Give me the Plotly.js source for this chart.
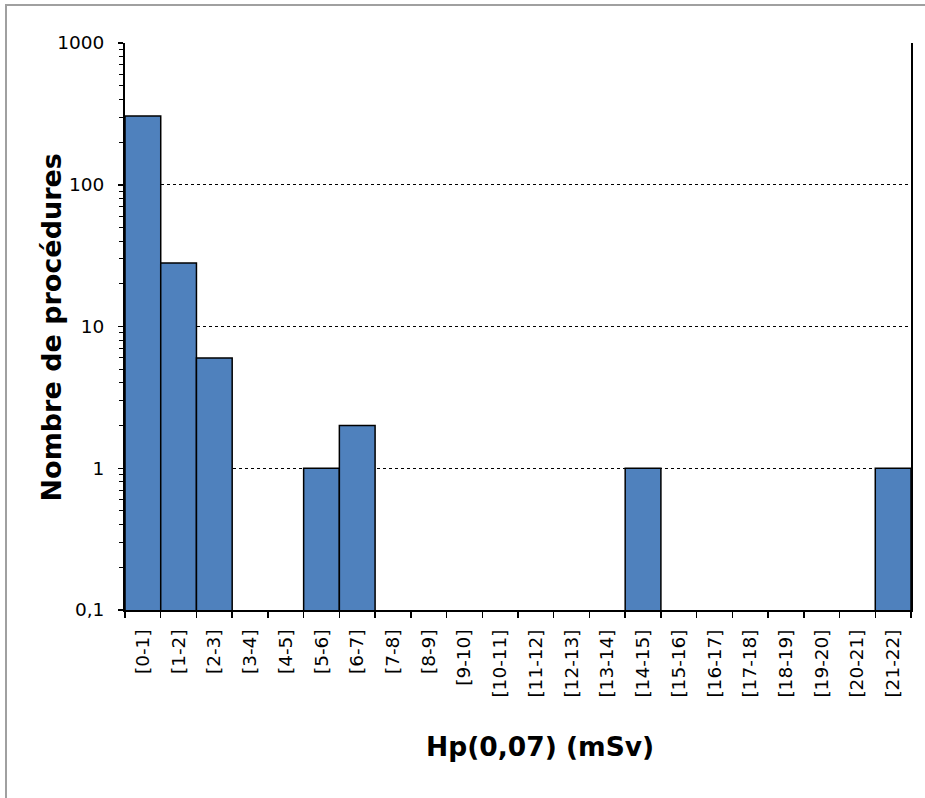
<!DOCTYPE html>
<html>
<head>
<meta charset="utf-8">
<script src="https://cdn.plot.ly/plotly-3.0.1.min.js"></script>
<style>
  html, body { margin: 0; padding: 0; background: #fff; }
  #wrap { position: relative; width: 925px; height: 798px; overflow: hidden; }
  #chart { position: absolute; left: 0; top: 0; width: 925px; height: 798px; }
  #frame { position: absolute; left: 5px; top: 4px; width: 930px; height: 810px; border-left: 2px solid #a0a0a0; border-top: 2px solid #a0a0a0; pointer-events: none; }
</style>
</head>
<body>
<div id="wrap"><div id="chart"></div><div id="frame"></div></div>
<script>
const categories = ["[0-1]","[1-2]","[2-3]","[3-4]","[4-5]","[5-6]","[6-7]","[7-8]","[8-9]","[9-10]","[10-11]","[11-12]","[12-13]","[13-14]","[14-15]","[15-16]","[16-17]","[17-18]","[18-19]","[19-20]","[20-21]","[21-22]"];
const counts = [305, 28, 6, null, null, 1, 2, null, null, null, null, null, null, null, 1, null, null, null, null, null, null, 1];
const yTickVals = [0.1, 1, 10, 100, 1000];
const yTickText = ["0,1", "1", "10", "100", "1000"];
const xTitle = "Hp(0,07) (mSv)";
const yTitle = "Nombre de procédures";

const font = "DejaVu Sans, Verdana, sans-serif";

const trace = {
  type: "bar",
  x: categories,
  y: counts,
  marker: { color: "#4F81BD", line: { color: "#000000", width: 1.5 } },
  hoverinfo: "x+y"
};

const L = 125, R = 911, T = 43, B = 610;
const pw = R - L, ph = B - T;

const layout = {
  width: 925, height: 798,
  margin: { l: L, r: 925 - R, t: T, b: 798 - B },
  paper_bgcolor: "rgba(0,0,0,0)",
  plot_bgcolor: "#ffffff",
  bargap: 0,
  showlegend: false,
  font: { family: font, color: "#000", size: 18.5 },
  xaxis: {
    type: "category",
    tickangle: -90,
    tickson: "boundaries",
    ticks: "outside",
    ticklen: 6,
    tickwidth: 1.5,
    tickcolor: "#000",
    ticklabelstandoff: 10,
    showline: true,
    linecolor: "#000",
    linewidth: 2,
    showgrid: false,
    tickfont: { family: font, size: 18.5, color: "#000" }
  },
  yaxis: {
    type: "log",
    range: [-1, 3],
    tickvals: yTickVals,
    ticktext: yTickText,
    ticks: "outside",
    ticklen: 5,
    tickwidth: 1.5,
    tickcolor: "#000",
    ticklabelstandoff: 10,
    minor: { ticks: "outside", ticklen: 4, tickwidth: 1, tickcolor: "#000", dtick: "D1", showgrid: false },
    showline: true,
    linecolor: "#000",
    linewidth: 2,
    mirror: true,
    showgrid: true,
    gridcolor: "#000",
    gridwidth: 1,
    griddash: "dot",
    zeroline: false,
    tickfont: { family: font, size: 18.5, color: "#000" }
  },
  annotations: [
    {
      text: yTitle,
      xref: "paper", yref: "paper",
      x: (50.5 - L) / pw, y: (B - 328) / ph,
      xanchor: "center", yanchor: "middle",
      textangle: -90,
      showarrow: false,
      font: { family: font, size: 27, color: "#000", weight: "bold" }
    },
    {
      text: xTitle,
      xref: "paper", yref: "paper",
      x: (540 - L) / pw, y: (B - 746) / ph,
      xanchor: "center", yanchor: "middle",
      showarrow: false,
      font: { family: font, size: 26.5, color: "#000", weight: "bold" }
    }
  ]
};

Plotly.newPlot("chart", [trace], layout, { displayModeBar: false, staticPlot: true });
</script>
</body>
</html>
